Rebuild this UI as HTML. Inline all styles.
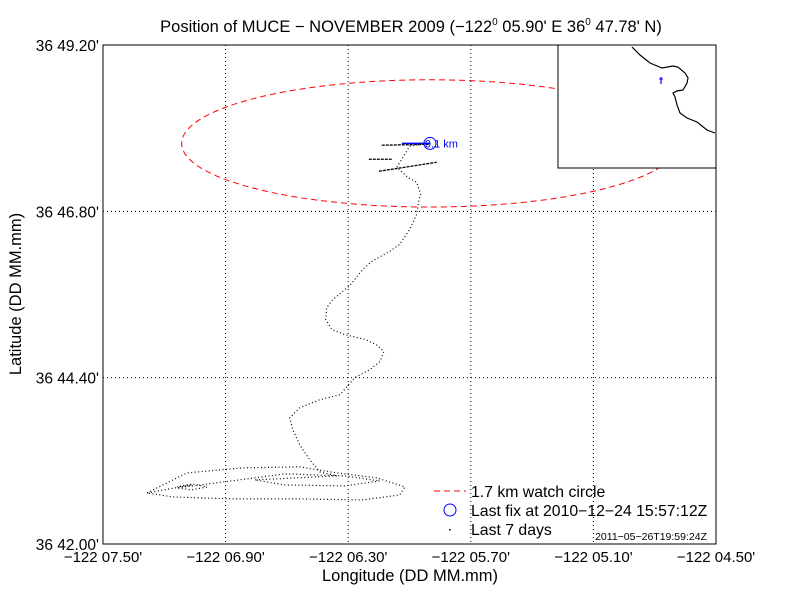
<!DOCTYPE html>
<html><head><meta charset="utf-8">
<style>
body{margin:0;background:#fff;}
svg{display:block;font-family:"Liberation Sans",Arial,sans-serif;}
</style></head>
<body>
<svg id="chart" width="792" height="612" viewBox="0 0 792 612">
<defs><clipPath id="plotclip"><rect x="103" y="45" width="613" height="499"/></clipPath></defs>
<rect width="792" height="612" fill="#fff"/>
<g id="grid"></g>
<g id="marks" clip-path="url(#plotclip)"></g>
<rect x="103" y="45" width="613" height="499" fill="none" stroke="#000" stroke-width="1"/>
<g id="ticks"></g>
<text x="411" y="32" text-anchor="middle" font-size="16.5">Position of MUCE − NOVEMBER 2009 (−122<tspan font-size="10" dy="-7">0</tspan><tspan dy="7"> 05.90' E  36</tspan><tspan font-size="10" dy="-7">0</tspan><tspan dy="7"> 47.78' N)</tspan></text>
<text x="410" y="581" text-anchor="middle" font-size="16.5">Longitude (DD MM.mm)</text>
<text transform="translate(21,294) rotate(-90)" text-anchor="middle" font-size="16.5">Latitude (DD MM.mm)</text>
<g id="legend">
<line x1="434" y1="491" x2="466" y2="491" stroke="#f00" stroke-width="1" stroke-dasharray="6,4"/>
<text x="471" y="497" font-size="15.8">1.7 km watch circle</text>
<circle cx="450" cy="510" r="6" fill="none" stroke="#00f"/>
<text x="471" y="516" font-size="15.8">Last fix at 2010−12−24 15:57:12Z</text>
<rect x="449" y="529" width="1.5" height="1.5" fill="#000"/>
<text x="471" y="535" font-size="15.8">Last 7 days</text>
</g>
<text x="707" y="540" text-anchor="end" font-size="10.5">2011−05−26T19:59:24Z</text>
<g>
<rect x="558" y="45" width="158" height="123" fill="#fff" stroke="#000"/>
<polyline points="632,47 640,55 650,63 662,68 673,66 678,67 685,73 688,78 687,83 683,90 677,91 673,93 675,97 677,105 680,113 687,118 697,122 707,130 715,133" fill="none" stroke="#000" stroke-width="1.2"/>
<line x1="661" y1="77" x2="661" y2="84" stroke="#00f" stroke-width="1.2"/>
<line x1="659" y1="79" x2="663" y2="79" stroke="#00f"/>
</g>
</svg>
<script>
// axis ranges (minutes)
const lonTicks = [7.50, 6.90, 6.30, 5.70, 5.10, 4.50];
const lonTickLabels = ["−122 07.50'", "−122 06.90'", "−122 06.30'", "−122 05.70'", "−122 05.10'", "−122 04.50'"];
const latTicks = [42.00, 44.40, 46.80, 49.20];
const latTickLabels = ["36 42.00'", "36 44.40'", "36 46.80'", "36 49.20'"];
// mooring and watch circle
const mooringLon = [5.90];
const mooringLat = [47.78];
const watchRadiusKm = [1.7];
// track (minutes west of 122, minutes north of 36)
const trackLon = [7.285,7.089,6.815,6.537,6.356,6.160,6.023,6.048,6.229,6.537,6.864,7.158,7.285,
  7.065,7.138,7.065,6.991,7.065,7.138,
  6.757,6.610,6.317,6.146,6.317,6.610,6.757,6.356,
  6.439,6.488,6.537,6.571,6.586,6.537,6.439,6.341,6.302,6.268,6.194,6.145,6.126,6.155,6.214,6.317,6.380,6.410,6.405,6.375,6.292,6.229,6.185,6.097,6.048,5.999,5.965,5.955,5.945,5.965,6.009,6.062,5.999,5.935,5.901];
const trackLat = [42.737,43.026,43.099,43.113,43.026,42.954,42.824,42.708,42.636,42.651,42.651,42.679,42.737,
  42.852,42.824,42.867,42.824,42.780,42.809,
  42.954,43.012,42.983,42.910,42.838,42.852,42.925,42.983,
  43.041,43.214,43.431,43.648,43.822,43.966,44.082,44.154,44.284,44.400,44.516,44.631,44.776,44.863,44.949,45.022,45.094,45.238,45.412,45.528,45.730,45.961,46.077,46.222,46.323,46.540,46.756,46.944,47.046,47.219,47.291,47.436,47.740,47.768,47.783];
// cluster segments near mooring
const segLon1 = [6.199, 6.087]; const segLat1 = [47.552, 47.552];
const segLon2 = [6.150, 5.867]; const segLat2 = [47.378, 47.508];
const segLon3 = [6.136, 5.901]; const segLat3 = [47.754, 47.768];

const X0=103, X1=716, Y0=544, Y1=45;
const xs = m => X0 + (7.5 - m) / 3.0 * (X1 - X0);
const ys = m => Y0 - (m - 42.0) / 7.2 * (Y0 - Y1);
const NS = "http://www.w3.org/2000/svg";
function mk(tag, attrs, parent){const e=document.createElementNS(NS,tag);for(const k in attrs)e.setAttribute(k,attrs[k]);parent.appendChild(e);return e;}
const grid=document.getElementById('grid'), ticks=document.getElementById('ticks'), marks=document.getElementById('marks');

lonTicks.forEach((v,i)=>{
  const x=xs(v);
  if(i>0 && i<lonTicks.length-1){
    const g=mk('line',{x1:x,y1:Y1,x2:x,y2:Y0,stroke:'#000','stroke-dasharray':'1,3','stroke-width':1},grid);
    
    
  }
  const t=mk('text',{x:x,y:Y0+18,'text-anchor':'middle','font-size':15},ticks);
  t.textContent=lonTickLabels[i];
  
  
});
latTicks.forEach((v,i)=>{
  const y=ys(v);
  if(i>0 && i<latTicks.length-1){
    const g=mk('line',{x1:X0,y1:y,x2:X1,y2:y,stroke:'#000','stroke-dasharray':'1,3','stroke-width':1},grid);
    
    
  }
  const t=mk('text',{x:X0-4,y:y+6,'text-anchor':'end','font-size':15.5},ticks);
  t.textContent=latTickLabels[i];
  
  
});

// watch circle
const cx=xs(mooringLon[0]), cy=ys(mooringLat[0]);
const rLonMin = watchRadiusKm[0]/(1.852*Math.cos(36.8*Math.PI/180))*1.06;
const rLatMin = watchRadiusKm[0]/1.852;
const el=mk('ellipse',{cx:cx,cy:cy,rx:Math.abs(xs(mooringLon[0]-rLonMin)-cx),ry:Math.abs(ys(mooringLat[0]+rLatMin)-cy),fill:'none',stroke:'#f00','stroke-width':1,'stroke-dasharray':'6,4'},marks);



// track
const pl=mk('polyline',{points:trackLon.map((v,i)=>xs(v)+','+ys(trackLat[i])).join(' '),fill:'none',stroke:'#000','stroke-width':1.2,'stroke-dasharray':'1,2.5'},marks);


[[segLon1,segLat1],[segLon2,segLat2],[segLon3,segLat3]].forEach(([lo,la])=>{
  const s=mk('line',{x1:xs(lo[0]),y1:ys(la[0]),x2:xs(lo[1]),y2:ys(la[1]),stroke:'#000','stroke-width':1.3,'stroke-dasharray':'3,1'},marks);
  
  
});
// last fix
const bl=mk('line',{x1:cx-28,y1:cy,x2:cx,y2:cy,stroke:'#00f','stroke-width':1.5},marks);


const lf=mk('circle',{cx:cx,cy:cy,r:6,fill:'none',stroke:'#00f'},marks);


const lt=mk('text',{x:cx-5,y:cy+4,'font-size':11,fill:'#00f'},marks);
lt.textContent='0.1 km';


</script>
</body></html>
